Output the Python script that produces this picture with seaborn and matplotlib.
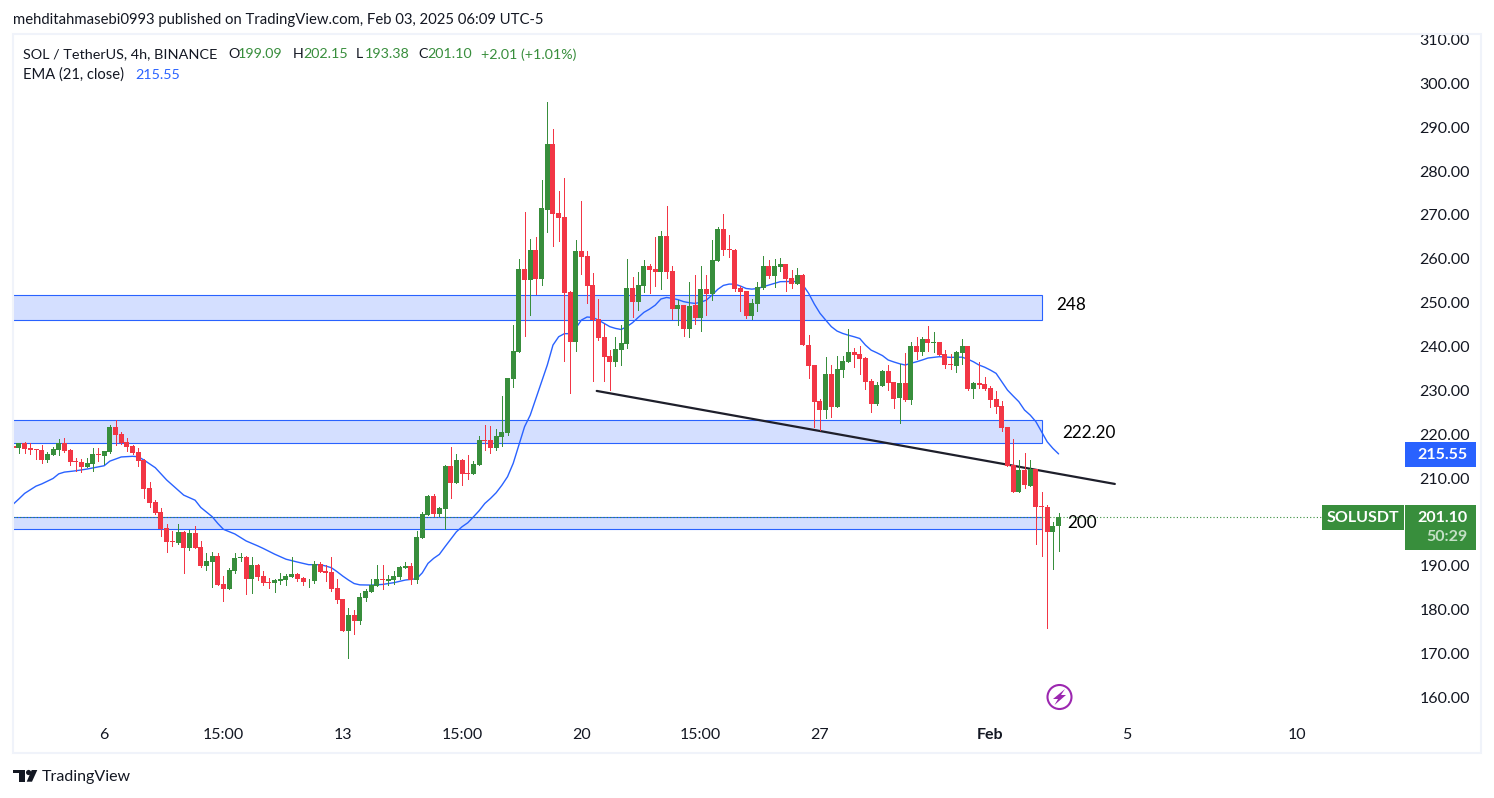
import matplotlib
matplotlib.use("Agg")
import matplotlib.pyplot as plt
from matplotlib.patches import Circle, Polygon, Rectangle
import numpy as np
import pandas as pd
import seaborn as sns

# 4h candles
opens = [
    217.3, 217.0, 218.0, 216.8, 216.6, 216.35, 214.2, 215.35, 216.5, 217.95,
    216.45, 213.85, 213.6, 212.6, 213.3, 215.45, 215.15, 216.05, 221.65, 220.1,
    218.25, 217.35, 215.9, 214.15, 207.7, 204.5, 202.2, 198.55, 195.7, 195.2,
    197.75, 194.15, 197.45, 194.3, 190.05, 190.95, 192.25, 185.85, 184.8, 188.85,
    191.9, 192.05, 187.1, 190.2, 187.7, 186.35, 186.2, 186.55, 186.8, 187.45,
    188.15, 187.25, 186.7, 186.55, 190.45, 188.85, 188.6, 184.95, 182.45, 175.15,
    178.8, 177.45, 182.7, 184.05, 185.5, 187.0, 186.55, 186.7, 187.45, 189.6,
    189.95, 186.8, 196.35, 201.6, 205.95, 201.85, 203.0, 212.8, 208.9, 214.15,
    211.2, 210.95, 213.0, 218.7, 218.7, 216.9, 219.4, 220.3, 232.6, 238.75,
    257.7, 255.2, 262.0, 255.4, 271.1, 286.2, 270.45, 269.55, 252.45, 241.05,
    261.8, 260.65, 254.05, 246.3, 242.2, 237.85, 236.5, 239.2, 240.6, 253.35,
    250.15, 253.8, 258.35, 257.7, 257.0, 265.2, 257.2, 248.55, 249.5, 244.0,
    249.5, 246.5, 253.1, 252.0, 259.5, 266.8, 262.25, 262.0, 253.35, 252.65,
    247.0, 249.7, 253.35, 258.35, 256.1, 258.15, 258.8, 255.65, 254.25, 256.3,
    240.35, 235.8, 227.6, 225.55, 233.75, 226.2, 234.65, 236.45, 238.75, 238.3,
    237.4, 232.15, 226.9, 231.0, 234.45, 231.95, 228.3, 231.7, 227.8, 240.1,
    238.75, 241.75, 240.9, 241.05, 238.3, 236.05, 235.55, 238.55, 240.1, 230.3,
    231.7, 231.45, 230.55, 228.05, 226.45, 221.65, 213.0, 206.85, 211.85, 208.2,
    212.1, 203.65, 203.45, 197.75, 199.09,
]
closes = [
    217.0, 218.0, 216.7, 216.5, 216.35, 214.2, 215.5, 216.65, 217.95, 216.2,
    213.75, 213.6, 212.6, 213.4, 215.45, 215.2, 216.2, 221.65, 219.9, 217.95,
    217.2, 215.75, 214.0, 207.6, 204.4, 202.15, 198.4, 195.55, 195.55, 197.75,
    194.15, 197.45, 194.15, 190.05, 191.05, 192.25, 185.7, 184.8, 189.05, 191.8,
    192.05, 187.1, 190.2, 187.55, 186.1, 186.2, 186.8, 187.0, 187.7, 188.15,
    187.0, 186.35, 186.85, 190.45, 188.6, 188.45, 184.75, 182.2, 175.15, 178.8,
    177.45, 182.9, 184.3, 185.65, 187.0, 186.8, 187.0, 187.7, 189.75, 189.95,
    186.8, 196.6, 201.85, 205.95, 201.85, 203.2, 212.8, 208.9, 214.15, 210.95,
    211.05, 213.2, 218.7, 218.45, 216.9, 219.6, 220.5, 232.85, 239.0, 257.7,
    255.2, 262.0, 255.4, 271.6, 286.2, 270.2, 269.3, 252.2, 241.05, 261.8,
    260.4, 253.8, 246.05, 241.95, 237.6, 236.5, 239.45, 240.8, 253.35, 250.15,
    254.05, 258.35, 257.45, 257.0, 265.2, 257.0, 248.55, 249.5, 244.0, 249.25,
    246.5, 253.1, 252.0, 259.75, 266.8, 262.0, 262.0, 253.1, 252.45, 247.0,
    249.95, 253.6, 258.35, 256.1, 258.35, 258.8, 255.4, 254.25, 256.3, 240.35,
    235.55, 227.35, 225.55, 233.75, 226.2, 234.9, 236.7, 238.75, 238.1, 237.15,
    231.95, 226.9, 231.25, 234.45, 231.7, 228.05, 231.7, 227.8, 240.1, 238.75,
    241.75, 240.8, 241.05, 238.1, 235.8, 235.8, 238.75, 240.1, 230.3, 231.7,
    231.25, 230.3, 227.8, 226.2, 221.45, 212.8, 206.85, 211.85, 208.45, 212.1,
    203.45, 203.45, 197.75, 199.1, 201.1,
]
highs = [
    219.9, 218.1, 218.25, 217.95, 216.6, 217.6, 216.05, 217.2, 218.95, 219.2,
    216.65, 214.6, 214.3, 214.5, 217.0, 216.9, 216.2, 222.1, 223.25, 220.55,
    219.15, 217.55, 216.8, 214.3, 209.15, 205.0, 203.15, 199.5, 198.0, 199.55,
    197.9, 198.2, 199.1, 195.7, 192.85, 193.1, 192.85, 187.7, 189.45, 192.85,
    192.85, 192.35, 192.05, 190.45, 188.85, 187.3, 187.0, 188.4, 188.15, 192.05,
    188.5, 187.45, 187.0, 191.1, 190.9, 190.2, 192.05, 187.0, 182.45, 180.4,
    179.95, 183.8, 184.75, 187.0, 190.2, 190.2, 187.95, 188.85, 189.95, 190.9,
    190.6, 197.95, 202.3, 206.15, 206.4, 203.45, 213.0, 217.1, 215.5, 214.35,
    215.3, 213.9, 219.6, 222.1, 221.9, 221.2, 228.7, 232.85, 244.9, 260.0,
    270.7, 264.5, 265.0, 278.0, 295.75, 289.6, 275.5, 278.4, 252.65, 264.3,
    273.2, 261.8, 256.75, 250.85, 245.15, 239.2, 242.2, 244.9, 260.0, 255.85,
    257.0, 259.75, 258.8, 265.0, 266.35, 272.05, 258.35, 250.6, 249.5, 254.7,
    256.3, 258.35, 256.3, 264.3, 267.25, 270.2, 265.4, 262.25, 253.8, 252.65,
    250.85, 254.7, 260.65, 259.7, 259.95, 260.2, 258.8, 257.45, 257.9, 256.55,
    242.65, 235.8, 228.05, 237.6, 235.8, 237.85, 237.85, 244.0, 239.65, 240.1,
    237.6, 232.6, 231.9, 234.65, 235.8, 231.95, 236.05, 238.55, 241.05, 242.2,
    242.2, 244.7, 243.3, 241.05, 239.2, 238.3, 239.0, 241.75, 240.1, 231.9,
    236.5, 233.05, 231.0, 229.9, 227.6, 221.65, 218.95, 214.15, 215.75, 214.15,
    212.1, 206.85, 203.9, 200.0, 202.15,
]
lows = [
    216.4, 215.8, 215.8, 215.5, 214.4, 213.55, 213.75, 215.3, 215.3, 216.05,
    213.1, 211.7, 211.5, 212.6, 211.7, 213.9, 213.25, 215.75, 217.55, 217.7,
    216.3, 215.5, 212.85, 205.55, 203.5, 201.85, 196.9, 193.25, 194.65, 195.0,
    188.45, 193.7, 194.15, 189.85, 189.05, 185.25, 185.65, 182.1, 184.8, 188.45,
    191.2, 183.7, 183.9, 186.8, 185.75, 185.04, 184.05, 185.95, 185.65, 187.45,
    186.55, 185.65, 185.25, 186.1, 188.6, 186.55, 184.3, 181.55, 175.15, 169.0,
    174.5, 176.75, 182.0, 184.05, 185.5, 184.75, 185.65, 186.0, 187.0, 189.6,
    185.85, 186.1, 196.35, 201.6, 201.4, 201.4, 198.4, 205.5, 208.9, 208.45,
    209.8, 210.95, 213.0, 216.4, 215.75, 216.4, 217.3, 219.85, 230.8, 238.75,
    242.4, 247.2, 252.0, 254.0, 266.1, 262.9, 264.05, 236.7, 229.4, 239.0,
    256.55, 249.95, 232.15, 241.5, 232.15, 230.1, 235.6, 235.8, 239.7, 246.75,
    248.35, 252.45, 252.2, 253.8, 253.1, 255.6, 246.25, 244.9, 242.4, 242.2,
    245.15, 243.55, 247.2, 250.6, 259.5, 260.85, 260.4, 252.65, 248.1, 246.5,
    246.25, 248.1, 253.1, 255.65, 253.6, 257.2, 252.65, 253.35, 254.25, 240.35,
    232.85, 221.65, 221.0, 223.7, 223.95, 226.2, 233.05, 236.45, 235.35, 233.75,
    230.3, 225.1, 226.7, 231.0, 230.1, 226.0, 222.6, 227.6, 226.9, 237.15,
    238.1, 239.0, 238.75, 238.1, 235.1, 234.9, 234.2, 236.05, 230.1, 228.3,
    230.55, 230.1, 226.2, 224.85, 220.75, 212.8, 206.85, 206.85, 207.75, 208.2,
    195.0, 192.25, 175.85, 189.3, 193.38,
]

# EMA read at candle positions
ema_idx = [
    0, 1, 2, 4, 5, 7, 8, 9, 11, 13, 16, 17, 19, 21, 22, 23, 25, 26, 27, 28,
    30, 32, 33, 35, 36, 37, 39, 41, 43, 44, 46, 48, 50, 52, 54, 55, 56, 57, 58, 59,
    60, 61, 63, 65, 67, 69, 71, 72, 73, 74, 75, 76, 77, 78, 79, 80, 81, 82, 83, 84,
    85, 86, 87, 88, 89, 90, 91, 92, 93, 94, 95, 96, 97, 98, 99, 100, 101, 102, 103, 104,
    105, 106, 107, 108, 109, 110, 111, 112, 113, 114, 115, 116, 117, 118, 119, 120, 121, 122, 123, 124,
    125, 126, 127, 128, 129, 130, 131, 132, 134, 135, 137, 138, 139, 140, 141, 142, 143, 144, 145, 146,
    147, 148, 149, 150, 151, 152, 153, 154, 155, 156, 157, 158, 159, 160, 161, 163, 165, 167, 168, 169,
    170, 171, 172, 173, 174, 175, 176, 177, 178, 179, 180, 181, 182, 183, 184,
]
ema_val = [
    204.1, 205.3, 206.55, 208.2, 208.7, 209.95, 211.0, 211.4, 211.7, 212.1, 212.85, 213.9, 214.85, 215.0, 214.9, 214.15, 212.4, 211.0, 209.6, 208.45,
    206.15, 205.0, 203.35, 201.25, 199.7, 198.35, 197.3, 195.7, 194.6, 194.0, 192.7, 191.55, 190.9, 190.3, 190.3, 190.0, 189.6, 188.7, 187.7, 186.8,
    186.0, 185.7, 185.65, 185.8, 186.2, 186.8, 187.1, 188.45, 190.6, 191.75, 192.65, 194.4, 196.1, 197.8, 198.95, 199.85, 201.2, 202.6, 204.25, 205.4,
    206.7, 208.4, 210.35, 213.4, 217.55, 221.75, 224.4, 228.2, 232.0, 235.8, 240.35, 242.25, 242.95, 242.95, 244.15, 246.05, 246.75, 246.65, 246.05, 245.3,
    244.55, 244.15, 243.9, 244.55, 245.45, 246.65, 247.8, 248.55, 249.45, 250.85, 251.2, 251.0, 250.7, 250.25, 250.0, 249.85, 250.1, 250.6, 251.75, 253.05,
    253.95, 254.25, 254.25, 253.8, 253.25, 253.1, 253.25, 253.65, 254.4, 254.8, 254.85, 254.8, 254.05, 252.15, 249.7, 247.6, 246.05, 244.55, 243.55, 243.0,
    242.6, 242.25, 241.85, 240.35, 239.2, 238.6, 237.95, 236.95, 236.5, 236.1, 235.8, 236.2, 236.55, 236.95, 237.4, 237.7, 237.55, 237.6, 237.15, 236.55,
    235.8, 235.3, 234.65, 233.9, 232.0, 230.1, 228.75, 227.45, 225.55, 224.4, 222.9, 220.6, 218.3, 216.8, 215.55,
]

band_tops = [251.7, 223.2, 201.2]
band_bottoms = [246.15, 217.95, 198.35]
band_labels = ["248", "222.20", "200"]
band_label_prices = [249.4, 220.2, 199.8]
band_end = 181.1
band_label_idx = [183.5, 184.6, 185.5]

trend_idx = [102.7, 193.9]
trend_price = [229.9, 208.7]

# 200.00 sits behind the last price tag in the original, so it is not shown
price_ticks = [160, 170, 180, 190, 210, 220, 230, 240, 250, 260, 270, 280, 290, 300, 310]
date_idx = [16, 37, 58, 79, 100, 121, 142, 172, 196, 226]
date_labels = ["6", "15:00", "13", "15:00", "20", "15:00", "27", "Feb", "5", "10"]

GREEN = "#388e3c"
RED = "#f23645"
BLUE = "#2962ff"
INK = "#131722"
FONT = "Lato"

sns.set_theme(style="white")
plt.rcParams["font.family"] = [FONT, "DejaVu Sans"]

W, H = 1494, 798
fig = plt.figure(figsize=(W / 100, H / 100), dpi=100, facecolor="white")

# pane in pixel terms: x 13..1404, y 34..720
ax = fig.add_axes([13 / W, 1 - 720 / H, (1404 - 13) / W, (720 - 34) / H], facecolor="white")
ax.set_xlim(-0.05, 244.8)
ax.set_ylim(154.9, 311.25)
sns.despine(ax=ax, left=True, right=True, top=True, bottom=True)

df = pd.DataFrame({"i": range(len(opens)), "o": opens, "h": highs, "l": lows, "c": closes})
df["up"] = df["c"] >= df["o"]
colors = np.where(df["up"], GREEN, RED)

for top, bottom in zip(band_tops, band_bottoms):
    ax.add_patch(Rectangle((-1, bottom), band_end + 1, top - bottom, facecolor=BLUE,
                           alpha=0.2, edgecolor="none", zorder=1))
    ax.add_patch(Rectangle((-1, bottom), band_end + 1, top - bottom, facecolor="none",
                           edgecolor=BLUE, lw=0.8, zorder=1.2))

ax.axhline(closes[-1], color=GREEN, lw=0.8, ls=(0, (1, 2)), zorder=1.5)

ema_df = pd.DataFrame({"i": ema_idx, "ema": ema_val})
sns.lineplot(data=ema_df, x="i", y="ema", ax=ax, color=BLUE, lw=1.0, zorder=2, errorbar=None)
ax.plot(trend_idx, trend_price, color="#1e1f2b", lw=1.6, zorder=2.5, solid_capstyle="round")

ax.vlines(df["i"], df["l"], df["h"], colors=colors, lw=0.55, zorder=3, antialiased=False)
body_low = df[["o", "c"]].min(axis=1)
body_h = (df["o"] - df["c"]).abs().clip(lower=0.2)
ax.bar(df["i"], body_h, bottom=body_low, width=0.88, color=colors, linewidth=0, zorder=3.2)

for lab, p, i in zip(band_labels, band_label_prices, band_label_idx):
    ax.text(i, p, lab, ha="left", va="center", fontsize=12.3, color="#000000", zorder=5)

ax.yaxis.tick_right()
ax.set_yticks(price_ticks)
ax.set_yticklabels([f"{p:.2f}" for p in price_ticks], ha="left", fontsize=11.5, color=INK)
ax.set_xticks(date_idx)
ax.set_xticklabels(date_labels, fontsize=11.5, color=INK)
ax.get_xticklabels()[date_labels.index("Feb")].set_fontweight("bold")
ax.tick_params(axis="y", length=0, pad=11)
ax.tick_params(axis="x", length=0, pad=5.5)
ax.set_xlabel("")
ax.set_ylabel("")
ax.grid(False)

# overlay in pixel coordinates for frame, tags and header text
ov = fig.add_axes([0, 0, 1, 1], facecolor="none")
ov.set_xlim(0, W)
ov.set_ylim(H, 0)
ov.axis("off")

ov.add_patch(Rectangle((13, 34), 1468, 719, fill=False, edgecolor="#f0f3fa", lw=1.5))
ov.add_patch(Rectangle((1322, 505), 82, 25, facecolor=GREEN, edgecolor="none"))
ov.add_patch(Rectangle((1405, 505), 71, 45, facecolor=GREEN, edgecolor="none"))
ov.add_patch(Rectangle((1405, 442), 71, 25, facecolor=BLUE, edgecolor="none"))
ov.text(1363, 517.5, "SOLUSDT", ha="center", va="center", fontsize=11.5, color="white", fontweight="bold")
ov.text(1468, 517.5, f"{closes[-1]:.2f}", ha="right", va="center", fontsize=11.5, color="white", fontweight="bold")
ov.text(1468, 537, "50:29", ha="right", va="center", fontsize=11.5, color="#c4e0c6", fontweight="bold")
ov.text(1468, 455, f"{ema_val[-1]:.2f}", ha="right", va="center", fontsize=11.5, color="white", fontweight="bold")

ov.add_patch(Circle((1059.5, 697), 12, fill=False, edgecolor="#9c27b0", lw=1.5))
ov.add_patch(Polygon([(1065, 689), (1053, 699), (1058, 699), (1054.5, 705), (1066, 695), (1061, 695)],
                     closed=True, facecolor="#9c27b0", edgecolor="none"))

ov.text(13, 20, "mehditahmasebi0993 published on TradingView.com, Feb 03, 2025 06:09 UTC-5",
        ha="left", va="center", fontsize=10.7, color=INK)
ov.text(23, 54.5, "SOL / TetherUS, 4h, BINANCE", ha="left", va="center", fontsize=10.4, color=INK)
legend_parts = [
    (228, "O", INK), (238, "199.09", GREEN), (293, "H", INK), (303, "202.15", GREEN),
    (356, "L", INK), (365, "193.38", GREEN), (418, "C", INK), (427, "201.10", GREEN),
    (481, "+2.01 (+1.01%)", GREEN),
]
for x, s, c in legend_parts:
    ov.text(x, 54.5, s, ha="left", va="center", fontsize=10.3, color=c)
ov.text(23, 75, "EMA (21, close)", ha="left", va="center", fontsize=10.6, color=INK)
ov.text(135, 75, "215.55", ha="left", va="center", fontsize=10.3, color=BLUE)

# TradingView mark
ov.add_patch(Polygon([(13.3, 770), (25.3, 770), (25.3, 781.7), (19.3, 781.7), (19.3, 772.8), (13.3, 772.8)],
                     closed=True, facecolor=INK, edgecolor="none"))
ov.add_patch(Circle((28.6, 772.5), 2.6, facecolor=INK, edgecolor="none"))
ov.add_patch(Polygon([(31.7, 770), (37.3, 770), (32, 781.7), (26.7, 781.7)], closed=True,
                     facecolor=INK, edgecolor="none"))
ov.text(42, 777, "TradingView", ha="left", va="center", fontsize=11.5, color=INK)

fig.savefig("out.png", dpi=100)
